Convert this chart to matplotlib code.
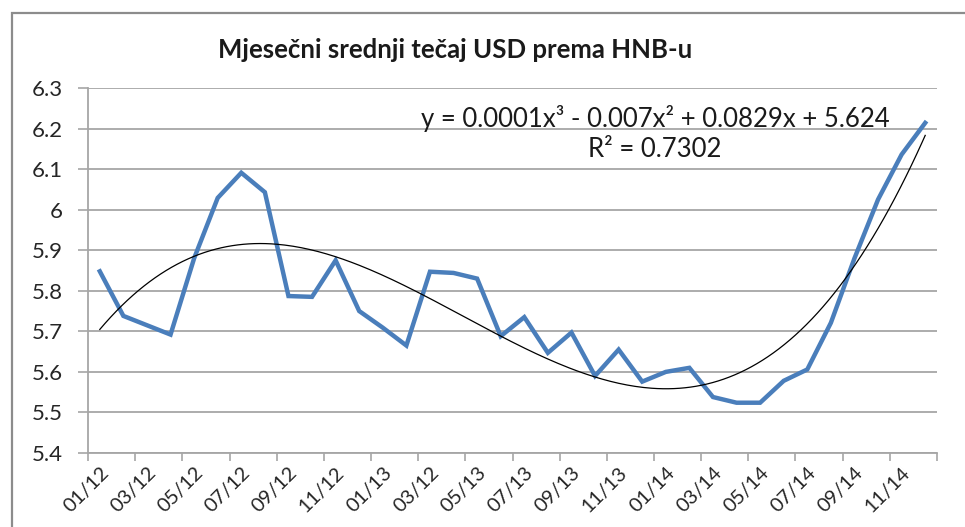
import numpy as np
import matplotlib.pyplot as plt
from matplotlib.patches import Rectangle

plt.rcParams['font.family'] = ['Lato', 'DejaVu Sans']

# monthly middle rate USD (HNB), 01/2012 - 12/2014
usd = [5.848, 5.738, 5.715, 5.692, 5.880, 6.029, 6.091, 6.043, 5.787, 5.785,
       5.875, 5.750, 5.709, 5.665, 5.847, 5.844, 5.830, 5.688, 5.735, 5.647,
       5.697, 5.590, 5.655, 5.576, 5.600, 5.610, 5.538, 5.524, 5.524, 5.578,
       5.606, 5.721, 5.880, 6.025, 6.136, 6.214]

# every second month is labelled (the "03/12" typo is in the original)
tick_labels = ['01/12', '03/12', '05/12', '07/12', '09/12', '11/12',
               '01/13', '03/12', '05/13', '07/13', '09/13', '11/13',
               '01/14', '03/14', '05/14', '07/14', '09/14', '11/14']

title = 'Mjesečni srednji tečaj USD prema HNB-u'
eq_text = 'y = 0.0001x³ - 0.007x² + 0.0829x + 5.624\nR² = 0.7302'

grid_col = '#a6a6a6'
blue = '#4a7ebb'

fig = plt.figure(figsize=(9.65, 5.27), dpi=100)
ax = fig.add_axes([88 / 965, 1 - 453 / 527, (937 - 88) / 965, (453 - 88) / 527])

n = len(usd)
x = np.arange(n)
ax.plot(x, usd, color=blue, lw=3.2, solid_joinstyle='miter', zorder=3)

# polynomial trendline (order 3), fitted on x = 1..n like Excel
coef = np.polyfit(x + 1, usd, 3)
xs = np.linspace(0, n - 1, 300)
ax.plot(xs, np.polyval(coef, xs + 1), color='black', lw=0.9, zorder=4)

ax.set_xlim(-0.5, n - 0.5)
ax.set_ylim(5.4, 6.3)
ax.set_yticks(np.arange(5.4, 6.31, 0.1))
ax.set_yticklabels(['5.4', '5.5', '5.6', '5.7', '5.8', '5.9', '6', '6.1', '6.2', '6.3'])
ax.yaxis.grid(True, color=grid_col, lw=1.3)
ax.set_axisbelow(True)

# tick marks at category boundaries, labels at category centres
ax.set_xticks(np.arange(-0.5, n, 2))
ax.set_xticklabels([])
ax.set_xticks(np.arange(0, n, 2), minor=True)
ax.set_xticklabels(tick_labels, minor=True, rotation=45, ha='right',
                   va='top', rotation_mode='anchor', fontsize=14.5, color='#262626')
ax.tick_params(axis='x', which='minor', length=0, pad=8)
ax.tick_params(axis='x', which='major', length=6, width=1.2, color=grid_col, direction='out')
ax.tick_params(axis='y', length=7.2, width=1.2, color=grid_col, direction='out',
               labelsize=16, pad=11, labelcolor='#262626')

for s in ['top', 'right']:
    ax.spines[s].set_visible(False)
for s in ['left', 'bottom']:
    ax.spines[s].set_color(grid_col)
    ax.spines[s].set_linewidth(1.3)

fig.text(455 / 965, 1 - 50 / 527, title, ha='center', va='center',
         fontsize=18.5, fontweight='bold', color='#1a1a1a')
fig.text(655 / 965, 1 - 133 / 527, eq_text, ha='center', va='center',
         fontsize=18.5, color='#1a1a1a', linespacing=1.25)

# chart area border
fig.patches.append(Rectangle((12 / 965, -0.1), 1.0, 1.1 - 13 / 527,
                             transform=fig.transFigure, fill=False,
                             ec='#8c8c8c', lw=1.6, clip_on=False))

plt.savefig('out.png', dpi=100)
